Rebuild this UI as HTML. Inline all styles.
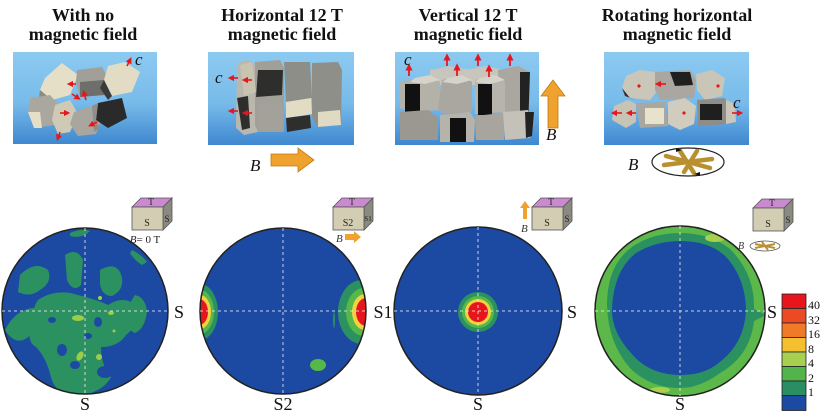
<!DOCTYPE html>
<html><head><meta charset="utf-8"><style>
html,body{margin:0;padding:0;background:#fff;}
svg{display:block;}
text{font-family:"Liberation Serif",serif;}
</style></head><body>
<svg width="820" height="412" viewBox="0 0 820 412" xmlns="http://www.w3.org/2000/svg">
<defs>
<linearGradient id="bg" x1="0" y1="0" x2="0" y2="1">
<stop offset="0" stop-color="#8ccaf0"/><stop offset="0.55" stop-color="#78bbea"/><stop offset="1" stop-color="#3f88d0"/>
</linearGradient>
<marker id="ra" markerWidth="4" markerHeight="4" refX="2" refY="2" orient="auto" markerUnits="strokeWidth"><path d="M0,0 L4,2 L0,4 z" fill="#e8161c"/></marker>
<clipPath id="c1"><circle cx="85" cy="311" r="83"/></clipPath>
<clipPath id="c2"><circle cx="283" cy="311" r="83"/></clipPath>
<clipPath id="c3"><circle cx="478" cy="311" r="84"/></clipPath>
<clipPath id="c4"><circle cx="680" cy="311" r="85"/></clipPath>
</defs>

<!-- Titles -->
<g font-weight="bold" font-size="18" text-anchor="middle" fill="#111">
<text x="83" y="21">With no</text><text x="83" y="40">magnetic field</text>
<text x="282" y="21">Horizontal 12 T</text><text x="282" y="40">magnetic field</text>
<text x="468" y="21">Vertical 12 T</text><text x="468" y="40">magnetic field</text>
<text x="677" y="21">Rotating horizontal</text><text x="677" y="40">magnetic field</text>
</g>

<!-- Panel 1 -->
<rect x="13" y="52" width="144" height="92" fill="url(#bg)"/>
<g stroke="none">
<polygon points="45,78 62,63 78,75 70,95 52,100 40,90" fill="#e6dfc8"/>
<polygon points="40,90 52,100 58,110 48,116 38,104" fill="#8c8c86"/>
<polygon points="77,70 102,67 108,78 106,95 80,97 76,82" fill="#a19f97"/>
<polygon points="80,82 104,80 104,95 80,97" fill="#6e6e6a"/>
<polygon points="108,66 125,62 140,72 132,92 112,96 104,80" fill="#e2dcc4"/>
<polygon points="104,80 112,96 108,100 100,88" fill="#3a3a3a"/>
<polygon points="30,98 50,95 58,104 55,125 34,128 28,112" fill="#a9a79e"/>
<polygon points="28,112 40,112 42,128 34,128" fill="#e6dfc8"/>
<polygon points="55,105 70,100 78,114 70,132 58,134 52,120" fill="#cfcab6"/>
<polygon points="74,112 92,106 102,118 96,134 78,136 70,124" fill="#a8a69e"/>
<polygon points="98,103 122,98 127,118 108,128 96,120" fill="#2a2a2a"/>
<polygon points="92,106 98,103 96,120 100,128 94,132" fill="#8e8e8a"/>
</g>
<g stroke="#e8161c" stroke-width="1.6" marker-end="url(#ra)">
<line x1="76" y1="84" x2="70" y2="84"/><line x1="72" y1="94" x2="78" y2="98"/><line x1="86" y1="100" x2="84" y2="93"/>
<line x1="60" y1="113" x2="67" y2="113"/><line x1="97" y1="122" x2="91" y2="125"/><line x1="60" y1="132" x2="58" y2="138"/>
<line x1="127" y1="66" x2="130" y2="60"/>
</g>
<text x="135" y="65" font-style="italic" font-size="17" fill="#111">c</text>

<!-- Panel 2 -->
<rect x="208" y="52" width="146" height="93" fill="url(#bg)"/>
<g>
<polygon points="237,63 250,60 258,68 258,132 244,135 236,128" fill="#b9b7ae"/>
<polygon points="255,62 280,60 284,68 284,132 258,132 255,125" fill="#a09f98"/>
<polygon points="258,70 283,70 282,95 256,97" fill="#2e2e2c"/>
<polygon points="258,104 282,103 283,130 258,130" fill="#a3a19a"/>
<polygon points="284,62 310,62 312,98 286,102" fill="#8e8e88"/>
<polygon points="286,102 311,98 312,114 286,118" fill="#e2dcc4"/>
<polygon points="286,118 310,115 311,128 287,132" fill="#2e2e2c"/>
<polygon points="312,63 338,62 342,70 341,125 318,127 312,118" fill="#8f8f8a"/>
<polygon points="318,112 340,110 341,125 318,127" fill="#e0dac3"/>
<polygon points="237,98 248,96 250,128 242,130" fill="#2e2e2c"/>
<polygon points="240,65 252,62 256,92 244,96" fill="#c9c4b0"/>
</g>
<g stroke="#e8161c" stroke-width="1.6" marker-end="url(#ra)">
<line x1="238" y1="78" x2="231" y2="78"/><line x1="252" y1="80" x2="245" y2="80"/>
<line x1="238" y1="111" x2="231" y2="111"/><line x1="252" y1="113" x2="245" y2="113"/>
</g>
<text x="215" y="83" font-style="italic" font-size="17" fill="#111">c</text>
<text x="250" y="171" font-style="italic" font-size="17" fill="#111">B</text>
<polygon points="271,154 298,154 298,148 314,160 298,172 298,166 271,166" fill="#f0a22e" stroke="#c07a10" stroke-width="0.8"/>

<!-- Panel 3 -->
<rect x="395" y="52" width="144" height="93" fill="url(#bg)"/>
<g>
<polygon points="430,70 450,66 470,70 470,85 430,85" fill="#c7c5bc"/>
<polygon points="465,70 485,66 505,70 505,85 465,85" fill="#c7c5bc"/>
<polygon points="498,70 518,66 530,72 528,130 500,132" fill="#a9a79f"/>
<polygon points="520,72 530,72 528,130 520,132" fill="#222"/>
<polygon points="410,80 430,75 440,82 440,110 410,112 400,108 400,82" fill="#b3b1a8"/>
<polygon points="405,84 420,84 420,112 405,112" fill="#111"/>
<polygon points="442,80 462,75 472,82 472,112 442,114 438,108" fill="#a9a79f"/>
<polygon points="475,80 495,75 505,82 505,112 475,114" fill="#b6b4ab"/>
<polygon points="478,84 492,84 492,115 478,115" fill="#111"/>
<polygon points="400,112 428,110 438,118 438,140 400,140" fill="#9a9891"/>
<polygon points="440,115 470,112 475,120 474,142 440,142" fill="#b5b3aa"/>
<polygon points="450,118 466,118 466,142 450,142" fill="#111"/>
<polygon points="475,116 502,113 505,120 504,140 476,140" fill="#a7a59d"/>
<polygon points="503,112 528,110 530,118 530,138 505,140" fill="#c3c1b8"/>
<polygon points="525,112 534,112 532,136 526,138" fill="#222"/>
<polygon points="415,78 430,75 440,80 425,84 410,82" fill="#d5d3ca"/>
<polygon points="448,78 462,75 472,80 457,84 442,82" fill="#d5d3ca"/>
<polygon points="480,78 495,75 505,80 490,84 475,82" fill="#d5d3ca"/>
</g>
<g stroke="#e8161c" stroke-width="1.8" marker-end="url(#ra)">
<line x1="409" y1="76" x2="409" y2="67"/><line x1="447" y1="66" x2="447" y2="57"/><line x1="457" y1="76" x2="457" y2="67"/>
<line x1="478" y1="66" x2="478" y2="57"/><line x1="489" y1="77" x2="489" y2="68"/><line x1="510" y1="66" x2="510" y2="57"/>
</g>
<text x="404" y="65" font-style="italic" font-size="17" fill="#111">c</text>
<polygon points="548,128 548,96 541,96 553,80 565,96 558,96 558,128" fill="#f0a22e" stroke="#c07a10" stroke-width="0.8"/>
<text x="546" y="140" font-style="italic" font-size="17" fill="#111">B</text>

<!-- Panel 4 -->
<rect x="604" y="52" width="145" height="93" fill="url(#bg)"/>
<g>
<polygon points="626,76 640,70 655,72 658,90 650,100 630,98 622,88" fill="#cac7ba"/>
<polygon points="622,88 630,98 636,100 625,96" fill="#333"/>
<polygon points="655,72 690,70 696,80 694,98 660,100 655,90" fill="#a9a79f"/>
<polygon points="670,72 690,72 693,85 675,86" fill="#1f1f1f"/>
<polygon points="696,74 712,70 725,78 722,96 705,100 697,90" fill="#c9c6b8"/>
<polygon points="614,106 628,100 636,104 636,122 626,128 612,120" fill="#c7c4b6"/>
<polygon points="636,103 665,102 668,126 640,128" fill="#a9a79f"/>
<polygon points="645,108 664,108 664,124 645,124" fill="#e8e2cc"/>
<polygon points="668,102 685,98 696,106 694,124 680,130 668,124" fill="#d0cdbf"/>
<polygon points="697,100 725,98 728,104 726,124 698,126" fill="#8e8d87"/>
<polygon points="700,104 722,104 722,120 700,120" fill="#1f1f1f"/>
<polygon points="726,100 735,104 736,122 726,124" fill="#cac7ba"/>
</g>
<g fill="#e8161c"><circle cx="639" cy="86" r="1.6"/><circle cx="718" cy="86" r="1.6"/><circle cx="684" cy="113" r="1.6"/></g>
<g stroke="#e8161c" stroke-width="1.6" marker-end="url(#ra)">
<line x1="666" y1="84" x2="658" y2="84"/><line x1="622" y1="113" x2="614" y2="113"/><line x1="636" y1="113" x2="629" y2="113"/><line x1="732" y1="113" x2="740" y2="113"/>
</g>
<text x="733" y="108" font-style="italic" font-size="17" fill="#111">c</text>
<text x="628" y="170" font-style="italic" font-size="17" fill="#111">B</text>
<ellipse cx="688" cy="162" rx="36" ry="14" fill="none" stroke="#222" stroke-width="1.2"/>
<g stroke="#b8902f" stroke-width="4.5" stroke-linecap="round">
<line x1="666" y1="156" x2="710" y2="168"/><line x1="664" y1="165" x2="712" y2="159"/><line x1="680" y1="151" x2="694" y2="173"/><line x1="697" y1="151" x2="684" y2="172"/>
</g>
<path d="M676,148 l6,2 l-6,2 z M700,176 l-6,-2 l6,-2 z" fill="#111"/>

<!-- Stereonet 1 -->
<g clip-path="url(#c1)">
<rect x="0" y="220" width="180" height="190" fill="#1c4aa2"/>
<g fill="#2c9160">
<path d="M20,275 q15,-15 28,-5 q5,12 -8,20 q-10,8 -22,2 z"/>
<path d="M65,255 q12,-8 18,5 l-2,25 q-8,8 -14,-5 z"/>
<path d="M100,270 q18,-10 22,8 q2,12 -10,18 q-10,0 -12,-12 z"/>
<path d="M5,330 q10,-20 28,-22 q12,0 12,10 q-8,12 -18,20 q-12,8 -22,-8 z"/>
<path d="M38,300 q18,-12 40,-5 q20,5 30,10 q15,-10 28,0 q5,18 -10,30 q-8,12 -25,12 q0,18 10,30 q-8,15 -30,18 q-25,2 -30,-18 q-5,-20 -15,-30 q-10,-5 -5,-25 q2,-15 7,-22 z"/>
<path d="M135,295 q10,2 12,16 q-2,18 -12,22 q-10,-4 -8,-18 q2,-12 8,-20 z"/>
<path d="M40,228 q10,-6 18,0 q-5,8 -18,5 z"/>
<path d="M70,233 q12,-5 20,-2 q-8,8 -20,5 z"/>
<path d="M132,250 q10,5 15,12 l-5,3 q-8,-5 -12,-12 z"/>
</g>
<g fill="#1c4aa2">
<ellipse cx="62" cy="350" rx="5" ry="6"/><ellipse cx="88" cy="336" rx="4" ry="3"/><ellipse cx="98" cy="322" rx="4" ry="5"/>
<ellipse cx="75" cy="365" rx="5" ry="4"/><ellipse cx="105" cy="372" rx="8" ry="6"/><ellipse cx="52" cy="320" rx="4" ry="3"/>
</g>
<g fill="#9ccc48">
<ellipse cx="78" cy="318" rx="6" ry="3"/><ellipse cx="100" cy="298" rx="2" ry="2"/><ellipse cx="111" cy="313" rx="3" ry="2"/>
<ellipse cx="80" cy="356" rx="3" ry="5" transform="rotate(30 80 356)"/><ellipse cx="99" cy="357" rx="3" ry="3"/><ellipse cx="114" cy="331" rx="1.5" ry="1.5"/>
</g>
</g>
<circle cx="85" cy="311" r="83" fill="none" stroke="#222" stroke-width="1.5"/>

<!-- Stereonet 2 -->
<g clip-path="url(#c2)">
<rect x="195" y="220" width="180" height="190" fill="#1c4aa2"/>
<ellipse cx="200" cy="312" rx="18" ry="28" fill="#2c9160"/>
<ellipse cx="200" cy="312" rx="14" ry="22" fill="#56b848"/>
<ellipse cx="200" cy="312" rx="11" ry="17" fill="#f2d240"/>
<ellipse cx="199" cy="312" rx="9" ry="13" fill="#e8161c"/>
<ellipse cx="362" cy="312" rx="24" ry="32" fill="#2c9160"/>
<ellipse cx="364" cy="312" rx="18" ry="24" fill="#56b848"/>
<ellipse cx="365" cy="312" rx="13" ry="18" fill="#f2d240"/>
<ellipse cx="366" cy="312" rx="10" ry="14" fill="#e8161c"/>
<ellipse cx="318" cy="365" rx="8" ry="6" fill="#56b848"/>
<ellipse cx="334" cy="320" rx="1" ry="8" fill="#2c9160"/>
</g>
<circle cx="283" cy="311" r="83" fill="none" stroke="#222" stroke-width="1.5"/>

<!-- Stereonet 3 -->
<g clip-path="url(#c3)">
<rect x="390" y="220" width="180" height="190" fill="#1c4aa2"/>
<circle cx="478" cy="312" r="20" fill="#2c9160"/>
<circle cx="478" cy="312" r="16" fill="#56b848"/>
<circle cx="478" cy="312" r="13" fill="#f2d240"/>
<circle cx="478" cy="312" r="10" fill="#e8161c"/>
</g>
<circle cx="478" cy="311" r="84" fill="none" stroke="#222" stroke-width="1.5"/>

<!-- Stereonet 4 -->
<g clip-path="url(#c4)">
<rect x="590" y="220" width="180" height="190" fill="#5cb848"/>
<path d="M607,305 q0,-40 25,-58 q20,-14 48,-14 q30,0 50,16 q25,25 24,60 l12,6 l-12,6 q-4,35 -34,52 q-20,15 -40,15 q-30,0 -50,-20 q-22,-25 -23,-63 z" fill="#2c9160"/>
<path d="M612,308 q2,-38 24,-55 q20,-12 44,-12 q32,0 48,18 q18,22 18,52 q-2,32 -25,50 q-15,14 -40,14 q-32,0 -50,-22 q-20,-22 -19,-45 z" fill="#1c4aa2"/>
<ellipse cx="715" cy="238" rx="10" ry="4" fill="#a8d050"/>
<ellipse cx="660" cy="390" rx="10" ry="3" fill="#a8d050"/>
</g>
<circle cx="680" cy="311" r="85" fill="none" stroke="#222" stroke-width="1.5"/>

<!-- Crosshairs -->
<g stroke="#e8e8f0" stroke-width="1" stroke-dasharray="3,3" opacity="0.85">
<line x1="2" y1="311" x2="168" y2="311"/><line x1="85" y1="228" x2="85" y2="394"/>
<line x1="200" y1="311" x2="366" y2="311"/><line x1="283" y1="228" x2="283" y2="394"/>
<line x1="394" y1="311" x2="562" y2="311"/><line x1="478" y1="227" x2="478" y2="395"/>
<line x1="595" y1="311" x2="765" y2="311"/><line x1="680" y1="226" x2="680" y2="396"/>
</g>

<!-- Labels -->
<g font-size="18" fill="#111" text-anchor="middle">
<text x="179" y="318">S</text><text x="85" y="410">S</text>
<text x="383" y="318">S1</text><text x="283" y="410">S2</text>
<text x="572" y="318">S</text><text x="478" y="410">S</text>
<text x="772" y="318">S</text><text x="680" y="410">S</text>
</g>

<!-- Cubes -->
<g stroke="#555" stroke-width="0.8">
<g transform="translate(132,198)">
<polygon points="0,9 9,0 40,0 31,9" fill="#c98ad0"/><polygon points="31,9 40,0 40,23 31,32" fill="#8a8a80"/><rect x="0" y="9" width="31" height="23" fill="#d3cdb3"/>
</g>
<g transform="translate(333,198)">
<polygon points="0,9 9,0 40,0 31,9" fill="#c98ad0"/><polygon points="31,9 40,0 40,23 31,32" fill="#8a8a80"/><rect x="0" y="9" width="31" height="23" fill="#d3cdb3"/>
</g>
<g transform="translate(532,198)">
<polygon points="0,9 9,0 40,0 31,9" fill="#c98ad0"/><polygon points="31,9 40,0 40,23 31,32" fill="#8a8a80"/><rect x="0" y="9" width="31" height="23" fill="#d3cdb3"/>
</g>
<g transform="translate(753,199)">
<polygon points="0,9 9,0 40,0 31,9" fill="#c98ad0"/><polygon points="31,9 40,0 40,23 31,32" fill="#8a8a80"/><rect x="0" y="9" width="31" height="23" fill="#d3cdb3"/>
</g>
</g>
<g font-size="9" fill="#222" text-anchor="middle">
<text x="151" y="205">T</text><text x="147" y="226" font-size="10">S</text><text x="167" y="222">S</text>
<text x="352" y="205">T</text><text x="348" y="226" font-size="10">S2</text><text x="368" y="221" font-size="7">S1</text>
<text x="551" y="205">T</text><text x="547" y="226" font-size="10">S</text><text x="567" y="222">S</text>
<text x="772" y="206">T</text><text x="768" y="227" font-size="10">S</text><text x="788" y="223">S</text>
</g>
<text x="145" y="243" font-size="11" fill="#222" text-anchor="middle"><tspan font-style="italic">B</tspan>= 0 T</text>
<text x="336" y="242" font-size="11" font-style="italic" fill="#333">B</text>
<polygon points="345,234 354,234 354,231 361,237 354,243 354,240 345,240" fill="#f0a22e"/>
<text x="521" y="232" font-size="11" font-style="italic" fill="#333">B</text>
<polygon points="523,219 523,208 520,208 525,201 530,208 527,208 527,219" fill="#f0a22e"/>
<text x="738" y="249" font-size="10" font-style="italic" fill="#333">B</text>
<ellipse cx="765" cy="246" rx="15" ry="5" fill="none" stroke="#555" stroke-width="0.8"/>
<g stroke="#b8902f" stroke-width="2"><line x1="755" y1="244" x2="775" y2="248"/><line x1="755" y1="248" x2="775" y2="244"/><line x1="762" y1="242" x2="768" y2="250"/></g>

<!-- Color bar -->
<g stroke="#222" stroke-width="0.8">
<rect x="782" y="294" width="24" height="14.5" fill="#e8161c"/>
<rect x="782" y="308.5" width="24" height="14.5" fill="#ec4a24"/>
<rect x="782" y="323" width="24" height="14.5" fill="#f07a28"/>
<rect x="782" y="337.5" width="24" height="14.5" fill="#f4c030"/>
<rect x="782" y="352" width="24" height="14.5" fill="#a8d050"/>
<rect x="782" y="366.5" width="24" height="14.5" fill="#52b44a"/>
<rect x="782" y="381" width="24" height="14.5" fill="#2a8e62"/>
<rect x="782" y="395.5" width="24" height="15" fill="#1c4aa2"/>
</g>
<g font-size="12" fill="#111">
<text x="808" y="309">40</text><text x="808" y="324">32</text><text x="808" y="338">16</text><text x="808" y="353">8</text>
<text x="808" y="367">4</text><text x="808" y="382">2</text><text x="808" y="396">1</text>
</g>
</svg>
</body></html>
